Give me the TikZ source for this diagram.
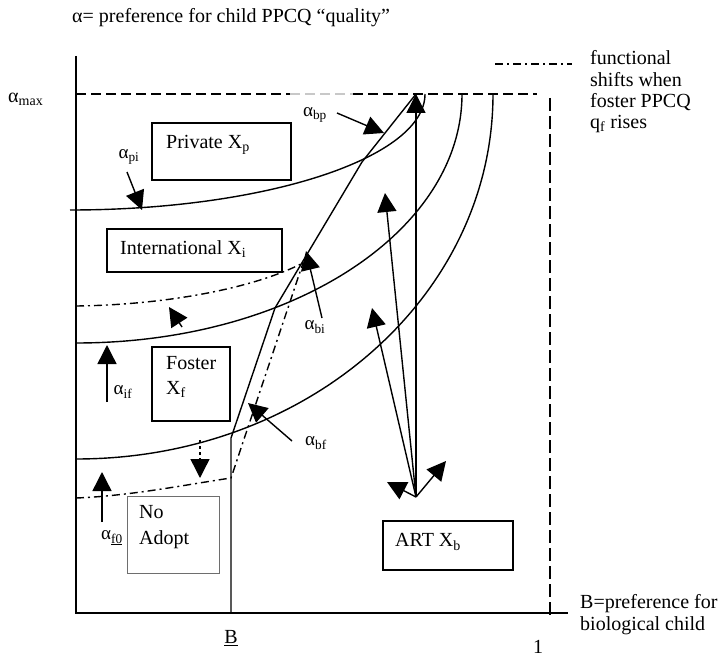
\documentclass[tikz,border=0pt]{standalone}
\usepackage{fontspec}
\setmainfont{Liberation Serif}
\usetikzlibrary{arrows.meta}
\definecolor{lightg}{RGB}{200,200,200}
\definecolor{boxgray}{RGB}{110,110,110}
\begin{document}
\begin{tikzpicture}[x=1pt,y=-1pt,
  ln/.style={line width=1.4pt},
  arr/.style={line width=1.4pt,-{Triangle[length=19pt,width=19pt]}},
  dsh/.style={line width=1.4pt,dash pattern=on 10pt off 5pt},
  vdsh/.style={line width=1.4pt,dash pattern=on 13pt off 5pt},
  dd/.style={line width=1.4pt,dash pattern=on 8pt off 4pt on 2pt off 4pt},
  box/.style={draw,line width=1.4pt,inner sep=0pt},
  txt/.style={inner sep=0pt,font=\fontsize{20}{23}\selectfont},
  alab/.style={inner sep=0pt,font=\fontsize{19}{21}\selectfont}]
\useasboundingbox (0,0) rectangle (728,658);

% texts
\node[txt,anchor=west] (title) at (72,18) {α= preference for child PPCQ “quality”};
\node[txt,anchor=west] (amax) at (8,99) {α\textsubscript{max}};
\node[txt,anchor=north west,align=left,font=\fontsize{20}{21.3}\selectfont] (legend) at (590,50.5) {functional\\shifts when\\foster PPCQ\\q\textsubscript{f} rises};
\node[txt,anchor=north west,align=left,font=\fontsize{20}{22}\selectfont] (xlab) at (580,594.5) {B=preference for\\biological child};
\node[txt] (Blab) at (231,638) {\underline{B}};
\node[txt] (one) at (538,647) {1};

% axes
\coordinate (ytop) at (76,56);
\coordinate (O) at (76,613);
\coordinate (xend) at (568,613);
\draw[ln] (ytop) -- (O) -- (xend);

% alpha max dashed line
\coordinate (m0) at (76,94);
\coordinate (m1) at (290,94);
\coordinate (m2) at (353,94);
\coordinate (m3) at (537,94);
\draw[dsh] (m0) -- (m1);
\draw[dsh,lightg] (m1) -- (m2);
\draw[dsh] (m2) -- (m3);

% right dashed line (B = 1)
\coordinate (r0) at (550,98);
\coordinate (r1) at (550,617);
\draw[vdsh] (r0) -- (r1);

% indifference curves
\draw[ln] (70,210) .. controls (265,210) and (425,158) .. (425,94);
\draw[ln] (76,343) .. controls (292,343) and (462,231) .. (462,94);
\draw[ln] (76,459) .. controls (309,459) and (493,295) .. (493,94);

% boundary of ART region
\coordinate (Bbot) at (231,613);
\coordinate (Bk) at (231,438);
\coordinate (k1) at (275,308);
\coordinate (k2) at (362,162);
\coordinate (top) at (416,94);
\draw[ln] (Bbot) -- (Bk) -- (k1) -- (k2) -- (top);

% shifted (dash-dot) boundaries
\coordinate (dk) at (231,478);
\coordinate (dtop) at (303,263);
\draw[dd] (76,498) .. controls (130,496) and (190,484) .. (dk) -- (dtop);
\draw[dd] (76,306) .. controls (160,305) and (250,290) .. (dtop);

% legend line
\coordinate (lg0) at (495,64);
\coordinate (lg1) at (572,64);
\draw[dd] (lg0) -- (lg1);

% boxes
\node[box,minimum width=139pt,minimum height=57pt] (private) at (221.5,151.5) {};
\node[txt,anchor=west] (privatet) at (166,145) {Private X\textsubscript{p}};
\node[box,minimum width=175pt,minimum height=43pt] (intl) at (194.5,250.5) {};
\node[txt,anchor=west] (intlt) at (120,249) {International X\textsubscript{i}};
\node[box,minimum width=78pt,minimum height=74pt] (foster) at (191,384) {};
\node[txt,anchor=west,align=left,font=\fontsize{20}{25}\selectfont] (fostert) at (166,377) {Foster\\X\textsubscript{f}};
\node[box,draw=boxgray,line width=1pt,minimum width=92pt,minimum height=77pt] (noad) at (173,534.5) {};
\node[txt,anchor=west,align=left,font=\fontsize{20}{26}\selectfont] (noadt) at (139,527) {No\\Adopt};
\node[box,minimum width=130pt,minimum height=49pt] (art) at (448,545.5) {};
\node[txt,anchor=west] (artt) at (395,542) {ART X\textsubscript{b}};

% alpha labels
\node[alab] (lpi) at (129,157) {α\textsubscript{pi}};
\node[alab] (lbp) at (315,115) {α\textsubscript{bp}};
\node[alab] (lbi) at (315,327) {α\textsubscript{bi}};
\node[alab] (lbf) at (316,443) {α\textsubscript{bf}};
\node[alab] (lif) at (123,392) {α\textsubscript{if}};
\node[alab] (lf0) at (112,538) {α\textsubscript{\underline{f0}}};

% arrows
\coordinate (pi1) at (127,172);  \coordinate (pi2) at (142,210);
\draw[arr] (pi1) -- (pi2);
\coordinate (bp1) at (337,113);  \coordinate (bp2) at (384,133);
\draw[arr] (bp1) -- (bp2);
\coordinate (bi1) at (322,318);  \coordinate (bi2) at (306,251);
\draw[arr] (bi1) -- (bi2);
\coordinate (bf1) at (292,441);  \coordinate (bf2) at (248,403);
\draw[arr] (bf1) -- (bf2);
\coordinate (if1) at (107,402);  \coordinate (if2) at (107,345);
\draw[arr] (if1) -- (if2);
\coordinate (f01) at (102,522);  \coordinate (f02) at (102,472);
\draw[arr] (f01) -- (f02);
\coordinate (dn1) at (200,440);  \coordinate (dn2) at (200,478);
\draw[arr,dash pattern=on 3pt off 3pt] (dn1) -- (dn2);
\coordinate (ul1) at (182,327);  \coordinate (ul2) at (169,307);
\draw[arr] (ul1) -- (ul2);

% ART shift arrows
\coordinate (org) at (416,497);
\coordinate (a1) at (385,193);
\coordinate (a2) at (372,308);
\coordinate (a3) at (387,482);
\coordinate (a4) at (446,461);
\draw[arr] (org) -- (top);
\draw[arr] (org) -- (a1);
\draw[arr] (org) -- (a2);
\draw[arr] (org) -- (a3);
\draw[arr] (org) -- (a4);
\end{tikzpicture}
\end{document}
